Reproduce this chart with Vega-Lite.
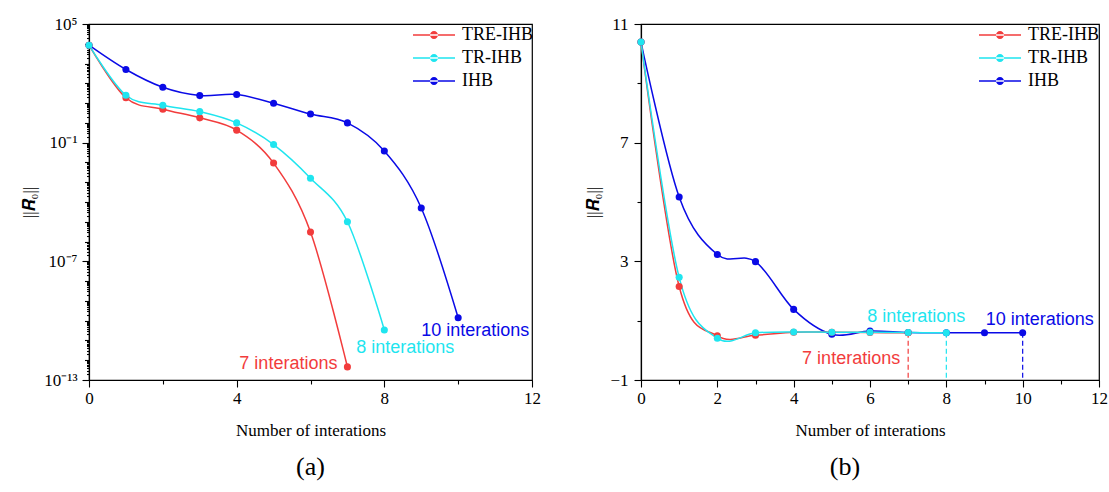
{
  "$schema": "https://vega.github.io/schema/vega-lite/v6.json",
  "background": "white",
  "autosize": {"type": "pad"},
  "padding": {"left": 19, "top": 14, "right": 0, "bottom": 0},
  "bounds": "flush",
  "spacing": 109,
  "datasets": {
    "a": [
      {"series": "IHB", "x": 0, "y": 8500}, {"series": "IHB", "x": 1, "y": 500}, {"series": "IHB", "x": 2, "y": 63}, {"series": "IHB", "x": 3, "y": 24}, {"series": "IHB", "x": 4, "y": 27}, {"series": "IHB", "x": 5, "y": 9.8}, {"series": "IHB", "x": 6, "y": 2.8}, {"series": "IHB", "x": 7, "y": 1.0}, {"series": "IHB", "x": 8, "y": 0.038}, {"series": "IHB", "x": 9, "y": 5e-5}, {"series": "IHB", "x": 10, "y": 1.4e-10},
      {"series": "TRE-IHB", "x": 0, "y": 8500}, {"series": "TRE-IHB", "x": 1, "y": 18.6}, {"series": "TRE-IHB", "x": 2, "y": 4.9}, {"series": "TRE-IHB", "x": 3, "y": 1.8}, {"series": "TRE-IHB", "x": 4, "y": 0.43}, {"series": "TRE-IHB", "x": 5, "y": 0.0093}, {"series": "TRE-IHB", "x": 6, "y": 3e-6}, {"series": "TRE-IHB", "x": 7, "y": 4.6e-13},
      {"series": "TR-IHB", "x": 0, "y": 8500}, {"series": "TR-IHB", "x": 1, "y": 25}, {"series": "TR-IHB", "x": 2, "y": 7.8}, {"series": "TR-IHB", "x": 3, "y": 3.7}, {"series": "TR-IHB", "x": 4, "y": 1.0}, {"series": "TR-IHB", "x": 5, "y": 0.08}, {"series": "TR-IHB", "x": 6, "y": 0.0016}, {"series": "TR-IHB", "x": 7, "y": 1e-5}, {"series": "TR-IHB", "x": 8, "y": 3.4e-11}
    ],
    "ends_a": [
      {"series": "TRE-IHB", "x": 7, "y": 4.6e-13, "label": "7 interations"},
      {"series": "TR-IHB", "x": 8, "y": 3.4e-11, "label": "8 interations"},
      {"series": "IHB", "x": 10, "y": 1.4e-10, "label": "10 interations"}
    ],
    "b": [
      {"series": "IHB", "x": 0, "y": 10.39}, {"series": "IHB", "x": 1, "y": 5.17}, {"series": "IHB", "x": 2, "y": 3.23}, {"series": "IHB", "x": 3, "y": 2.99}, {"series": "IHB", "x": 4, "y": 1.38}, {"series": "IHB", "x": 5, "y": 0.54}, {"series": "IHB", "x": 6, "y": 0.65}, {"series": "IHB", "x": 7, "y": 0.6}, {"series": "IHB", "x": 8, "y": 0.59}, {"series": "IHB", "x": 9, "y": 0.59}, {"series": "IHB", "x": 10, "y": 0.59},
      {"series": "TRE-IHB", "x": 0, "y": 10.39}, {"series": "TRE-IHB", "x": 1, "y": 2.15}, {"series": "TRE-IHB", "x": 2, "y": 0.49}, {"series": "TRE-IHB", "x": 3, "y": 0.51}, {"series": "TRE-IHB", "x": 4, "y": 0.61}, {"series": "TRE-IHB", "x": 5, "y": 0.61}, {"series": "TRE-IHB", "x": 6, "y": 0.6}, {"series": "TRE-IHB", "x": 7, "y": 0.59},
      {"series": "TR-IHB", "x": 0, "y": 10.39}, {"series": "TR-IHB", "x": 1, "y": 2.46}, {"series": "TR-IHB", "x": 2, "y": 0.41}, {"series": "TR-IHB", "x": 3, "y": 0.59}, {"series": "TR-IHB", "x": 4, "y": 0.62}, {"series": "TR-IHB", "x": 5, "y": 0.61}, {"series": "TR-IHB", "x": 6, "y": 0.61}, {"series": "TR-IHB", "x": 7, "y": 0.6}, {"series": "TR-IHB", "x": 8, "y": 0.59}
    ],
    "ends_b": [
      {"series": "TRE-IHB", "x": 7, "y": 0.59, "label": "7 interations"},
      {"series": "TR-IHB", "x": 8, "y": 0.59, "label": "8 interations"},
      {"series": "IHB", "x": 10, "y": 0.59, "label": "10 interations"}
    ]
  },
  "config": {
    "font": "Liberation Serif",
    "view": {"stroke": "black", "strokeWidth": 1.2},
    "axis": {
      "domainColor": "black", "domainWidth": 1.2, "tickColor": "black", "tickWidth": 1.1,
      "labelColor": "black", "titleColor": "black",
      "labelFont": "Liberation Serif", "titleFont": "Liberation Serif",
      "labelFontSize": 17, "titleFontSize": 17, "titleFontWeight": "normal",
      "grid": false, "labelOverlap": false, "labelBound": false, "labelFlush": false
    },
    "legend": {
      "orient": "none", "legendY": 2, "title": null,
      "symbolType": "M-3,-0.1L3,-0.1L3,0.1L-3,0.1Z M-0.57,0A0.57,0.57 0 1,0 0.57,0A0.57,0.57 0 1,0 -0.57,0Z",
      "symbolSize": 196, "symbolStrokeWidth": 0,
      "labelFont": "Liberation Serif", "labelFontSize": 18, "labelColor": "black",
      "labelOffset": 19, "rowPadding": 5, "padding": 0
    },
    "title": {"font": "Liberation Serif", "fontSize": 26, "fontWeight": "normal", "color": "black"}
  },
  "resolve": {"scale": {"color": "independent"}},
  "hconcat": [
    {
      "width": 443, "height": 356,
      "title": {"text": "(a)", "orient": "bottom", "offset": 16},
      "encoding": {
        "x": {
          "field": "x", "type": "quantitative",
          "scale": {"domain": [0, 12], "nice": false},
          "axis": {
            "title": "Number of interations", "titleY": 50, "titleBaseline": "middle",
            "values": [0, 2, 4, 6, 8, 10, 12],
            "labelExpr": "datum.value % 4 == 0 ? datum.label : ''",
            "tickSize": {"condition": {"test": "datum.value % 4 == 0", "value": 7}, "value": 4},
            "labelPadding": 3
          }
        },
        "y": {
          "field": "y", "type": "quantitative",
          "scale": {"type": "log", "domain": [1e-13, 100000], "nice": false},
          "axis": {
            "title": "||𝑹₀||", "titleX": -60, "titleY": 178, "titleBaseline": "middle",
            "labelPadding": 5,
            "values": [1e-13,2e-13,3e-13,4e-13,5e-13,6e-13,7e-13,8e-13,9e-13,
              1e-12,2e-12,3e-12,4e-12,5e-12,6e-12,7e-12,8e-12,9e-12,
              1e-11,2e-11,3e-11,4e-11,5e-11,6e-11,7e-11,8e-11,9e-11,
              1e-10,2e-10,3e-10,4e-10,5e-10,6e-10,7e-10,8e-10,9e-10,
              1e-9,2e-9,3e-9,4e-9,5e-9,6e-9,7e-9,8e-9,9e-9,
              1e-8,2e-8,3e-8,4e-8,5e-8,6e-8,7e-8,8e-8,9e-8,
              1e-7,2e-7,3e-7,4e-7,5e-7,6e-7,7e-7,8e-7,9e-7,
              1e-6,2e-6,3e-6,4e-6,5e-6,6e-6,7e-6,8e-6,9e-6,
              1e-5,2e-5,3e-5,4e-5,5e-5,6e-5,7e-5,8e-5,9e-5,
              1e-4,2e-4,3e-4,4e-4,5e-4,6e-4,7e-4,8e-4,9e-4,
              0.001,0.002,0.003,0.004,0.005,0.006,0.007,0.008,0.009,
              0.01,0.02,0.03,0.04,0.05,0.06,0.07,0.08,0.09,
              0.1,0.2,0.3,0.4,0.5,0.6,0.7,0.8,0.9,
              1,2,3,4,5,6,7,8,9,
              10,20,30,40,50,60,70,80,90,
              100,200,300,400,500,600,700,800,900,
              1000,2000,3000,4000,5000,6000,7000,8000,9000,
              10000,20000,30000,40000,50000,60000,70000,80000,90000,
              100000],
            "labelExpr": "abs(log(datum.value)/LN10 - round(log(datum.value)/LN10)) < 1e-6 ? (round(log(datum.value)/LN10) == 5 ? '10⁵' : round(log(datum.value)/LN10) == -1 ? '10⁻¹' : round(log(datum.value)/LN10) == -7 ? '10⁻⁷' : round(log(datum.value)/LN10) == -13 ? '10⁻¹³' : '') : ''",
            "tickSize": {"condition": [
              {"test": "abs(log(datum.value)/LN10 - round(log(datum.value)/LN10)) < 1e-6 && (round(log(datum.value)/LN10) + 13) % 6 == 0", "value": 7},
              {"test": "abs(log(datum.value)/LN10 - round(log(datum.value)/LN10)) < 1e-6", "value": 4.5}
            ], "value": 2.5}
          }
        }
      },
      "layer": [
        {
          "data": {"name": "a"},
          "mark": {"type": "line", "interpolate": "cardinal", "strokeWidth": 1.5},
          "encoding": {
            "color": {"field": "series", "type": "nominal",
              "scale": {"domain": ["TRE-IHB", "TR-IHB", "IHB"], "range": ["#F23C3C", "#1FE5EF", "#0A0AE6"]},
              "legend": {"legendX": 336}}
          }
        },
        {
          "data": {"name": "a"},
          "mark": {"type": "point", "filled": true, "size": 50, "opacity": 1},
          "encoding": {
            "color": {"field": "series", "type": "nominal",
              "scale": {"domain": ["TRE-IHB", "TR-IHB", "IHB"], "range": ["#F23C3C", "#1FE5EF", "#0A0AE6"]},
              "legend": {"legendX": 336}}
          }
        },
        {
          "data": {"name": "ends_a"},
          "transform": [{"filter": "datum.series == 'TRE-IHB'"}],
          "mark": {"type": "text", "font": "Liberation Sans", "fontSize": 18, "color": "#F23C3C", "align": "right", "baseline": "middle", "dx": -10, "dy": -3},
          "encoding": {"text": {"field": "label"}}
        },
        {
          "data": {"name": "ends_a"},
          "transform": [{"filter": "datum.series == 'TR-IHB'"}],
          "mark": {"type": "text", "font": "Liberation Sans", "fontSize": 18, "color": "#1FE5EF", "align": "center", "baseline": "middle", "dx": 21, "dy": 18},
          "encoding": {"text": {"field": "label"}}
        },
        {
          "data": {"name": "ends_a"},
          "transform": [{"filter": "datum.series == 'IHB'"}],
          "mark": {"type": "text", "font": "Liberation Sans", "fontSize": 18, "color": "#0A0AE6", "align": "center", "baseline": "middle", "dx": 17, "dy": 13},
          "encoding": {"text": {"field": "label"}}
        }
      ]
    },
    {
      "width": 458, "height": 356,
      "title": {"text": "(b)", "orient": "bottom", "offset": 16, "dx": -25},
      "encoding": {
        "x": {
          "field": "x", "type": "quantitative",
          "scale": {"domain": [0, 12], "nice": false},
          "axis": {
            "title": "Number of interations", "titleY": 50, "titleBaseline": "middle",
            "values": [0, 1, 2, 3, 4, 5, 6, 7, 8, 9, 10, 11, 12],
            "labelExpr": "datum.value % 2 == 0 ? datum.label : ''",
            "tickSize": {"condition": {"test": "datum.value % 2 == 0", "value": 7}, "value": 4},
            "labelPadding": 3
          }
        },
        "y": {
          "field": "y", "type": "quantitative",
          "scale": {"domain": [-1, 11], "nice": false},
          "axis": {
            "title": "||𝑹₀||", "titleX": -48, "titleY": 178, "titleBaseline": "middle",
            "labelPadding": 6,
            "values": [-1, 1, 3, 5, 7, 9, 11],
            "labelExpr": "datum.value == -1 ? '−1' : ((datum.value + 1) % 4 == 0 ? datum.label : '')",
            "tickSize": {"condition": {"test": "(datum.value + 1) % 4 == 0", "value": 7}, "value": 4}
          }
        }
      },
      "layer": [
        {
          "data": {"name": "ends_b"},
          "mark": {"type": "rule", "strokeDash": [5, 3], "strokeWidth": 1.2},
          "encoding": {
            "y2": {"datum": -1},
            "color": {"field": "series", "type": "nominal",
              "scale": {"domain": ["TRE-IHB", "TR-IHB", "IHB"], "range": ["#F23C3C", "#1FE5EF", "#0A0AE6"]},
              "legend": {"legendX": 350}}
          }
        },
        {
          "data": {"name": "b"},
          "mark": {"type": "line", "interpolate": "cardinal", "strokeWidth": 1.5},
          "encoding": {
            "color": {"field": "series", "type": "nominal",
              "scale": {"domain": ["TRE-IHB", "TR-IHB", "IHB"], "range": ["#F23C3C", "#1FE5EF", "#0A0AE6"]},
              "legend": {"legendX": 350}}
          }
        },
        {
          "data": {"name": "b"},
          "mark": {"type": "point", "filled": true, "size": 50, "opacity": 1},
          "encoding": {
            "color": {"field": "series", "type": "nominal",
              "scale": {"domain": ["TRE-IHB", "TR-IHB", "IHB"], "range": ["#F23C3C", "#1FE5EF", "#0A0AE6"]},
              "legend": {"legendX": 350}}
          }
        },
        {
          "data": {"name": "ends_b"},
          "transform": [{"filter": "datum.series == 'TRE-IHB'"}],
          "mark": {"type": "text", "font": "Liberation Sans", "fontSize": 18, "color": "#F23C3C", "align": "right", "baseline": "middle", "dx": -8, "dy": 26},
          "encoding": {"text": {"field": "label"}}
        },
        {
          "data": {"name": "ends_b"},
          "transform": [{"filter": "datum.series == 'TR-IHB'"}],
          "mark": {"type": "text", "font": "Liberation Sans", "fontSize": 18, "color": "#1FE5EF", "align": "center", "baseline": "middle", "dx": -30, "dy": -16},
          "encoding": {"text": {"field": "label"}}
        },
        {
          "data": {"name": "ends_b"},
          "transform": [{"filter": "datum.series == 'IHB'"}],
          "mark": {"type": "text", "font": "Liberation Sans", "fontSize": 18, "color": "#0A0AE6", "align": "center", "baseline": "middle", "dx": 17, "dy": -13},
          "encoding": {"text": {"field": "label"}}
        }
      ]
    }
  ]
}
